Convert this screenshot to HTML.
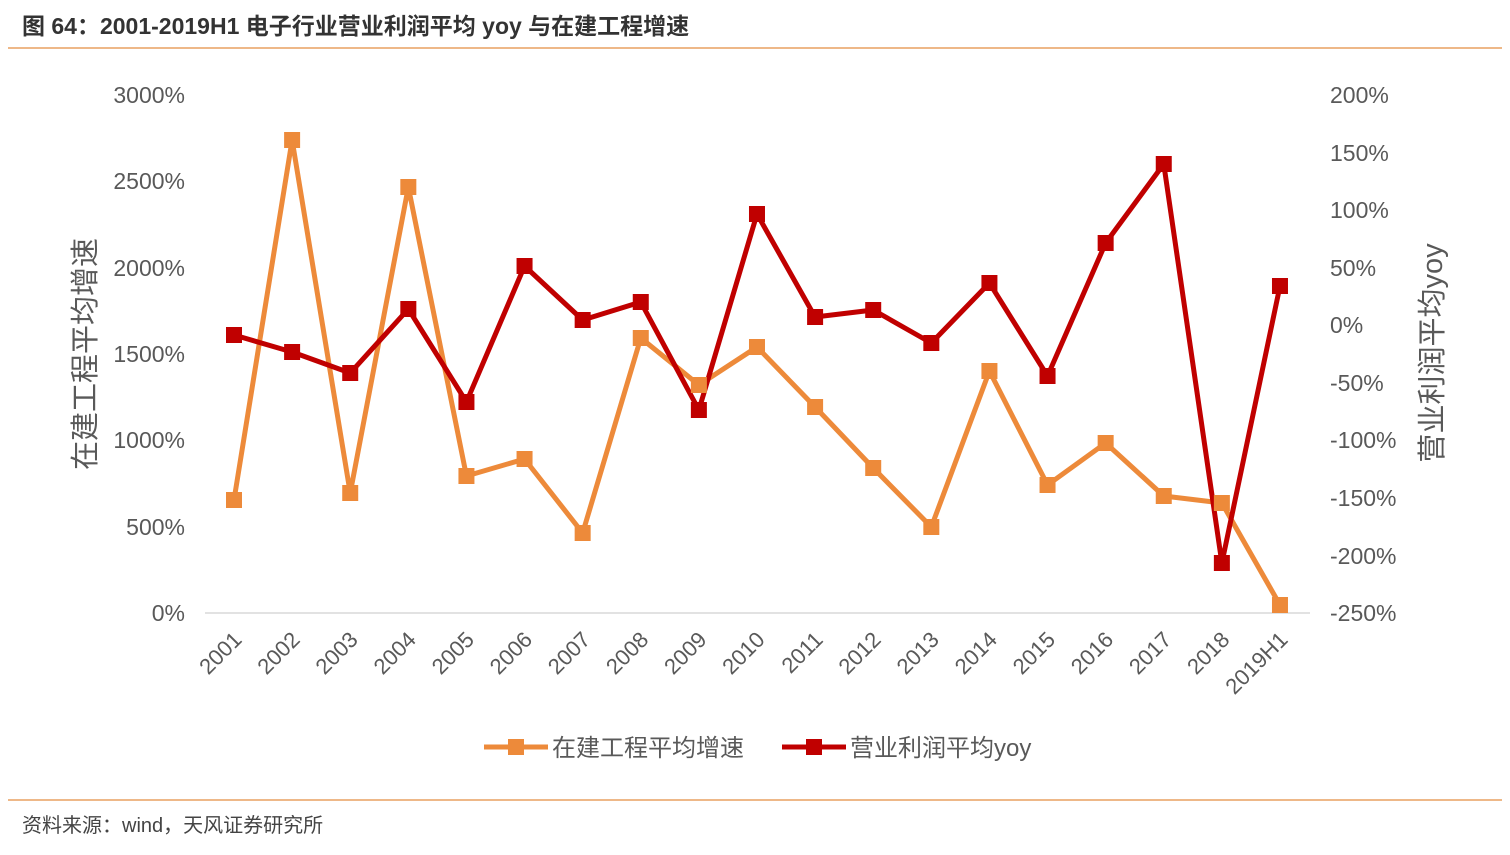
<!DOCTYPE html>
<html><head><meta charset="utf-8"><style>
body{margin:0;background:#fff;width:1510px;height:850px;overflow:hidden;font-family:"Liberation Sans","Noto Sans CJK SC",sans-serif;}
</style></head><body>
<svg width="1510" height="850" xmlns="http://www.w3.org/2000/svg" font-family="Liberation Sans, Noto Sans CJK SC, sans-serif">
<text x="22" y="34" font-size="23" font-weight="bold" fill="#333">图 64：2001-2019H1 电子行业营业利润平均 yoy 与在建工程增速</text>
<line x1="8" y1="48" x2="1502" y2="48" stroke="#e9a060" stroke-width="1.5"/>
<line x1="8" y1="800" x2="1502" y2="800" stroke="#e9a060" stroke-width="1.5"/>
<text x="22" y="832" font-size="20" fill="#444">资料来源：wind，天风证券研究所</text>
<line x1="205" y1="613" x2="1310" y2="613" stroke="#d9d9d9" stroke-width="1.5"/>
<g font-size="23" fill="#595959" text-anchor="end">
<text x="185" y="103">3000%</text><text x="185" y="189">2500%</text><text x="185" y="276">2000%</text><text x="185" y="362">1500%</text><text x="185" y="448">1000%</text><text x="185" y="535">500%</text><text x="185" y="621">0%</text>
</g>
<g font-size="23" fill="#595959" text-anchor="start">
<text x="1330" y="103">200%</text><text x="1330" y="161">150%</text><text x="1330" y="218">100%</text><text x="1330" y="276">50%</text><text x="1330" y="333">0%</text><text x="1330" y="391">-50%</text><text x="1330" y="448">-100%</text><text x="1330" y="506">-150%</text><text x="1330" y="564">-200%</text><text x="1330" y="621">-250%</text>
</g>
<text transform="translate(95,354) rotate(-90)" font-size="29" fill="#595959" text-anchor="middle">在建工程平均增速</text>
<text transform="translate(1442,353) rotate(-90)" font-size="29" fill="#595959" text-anchor="middle">营业利润平均yoy</text>
<g font-size="22" fill="#595959" text-anchor="end" id="xl"></g>
<polyline id="po" fill="none" stroke="#ed8a3a" stroke-width="5" stroke-linejoin="round"/>
<polyline id="pr" fill="none" stroke="#c00000" stroke-width="5" stroke-linejoin="round"/>
<g id="mk"></g>
<line x1="484" y1="747" x2="548" y2="747" stroke="#ed8a3a" stroke-width="5"/><rect x="508" y="739" width="16" height="16" fill="#ed8a3a"/>
<text x="552" y="756" font-size="24" fill="#595959">在建工程平均增速</text>
<line x1="782" y1="747" x2="846" y2="747" stroke="#c00000" stroke-width="5"/><rect x="806" y="739" width="16" height="16" fill="#c00000"/>
<text x="850" y="756" font-size="24" fill="#595959">营业利润平均yoy</text>
</svg>
<script>
var o=[500,140,493,187,476,459,533,338,385,347,407,468,527,371,485,443,496,503,605];
var r=[335,352,373,309,402,266,320,302,410,214,317,310,343,283,376,243,164,563,286];
var lab=[];for(var i=2001;i<=2018;i++)lab.push(""+i);lab.push("2019H1");
var ns="http://www.w3.org/2000/svg",po=[],pr=[],mk=document.getElementById("mk"),xl=document.getElementById("xl");
for(var i=0;i<19;i++){var x=234+i*58.11;po.push(x+","+o[i]);pr.push(x+","+r[i]);
[[o[i],"#ed8a3a"],[r[i],"#c00000"]].forEach(function(p){var e=document.createElementNS(ns,"rect");e.setAttribute("x",x-8);e.setAttribute("y",p[0]-8);e.setAttribute("width",16);e.setAttribute("height",16);e.setAttribute("fill",p[1]);mk.appendChild(e);});
var t=document.createElementNS(ns,"text");t.setAttribute("transform","translate("+(x+9)+",641) rotate(-45)");t.textContent=lab[i];xl.appendChild(t);}
document.getElementById("po").setAttribute("points",po.join(" "));
document.getElementById("pr").setAttribute("points",pr.join(" "));
</script>
</body></html>
